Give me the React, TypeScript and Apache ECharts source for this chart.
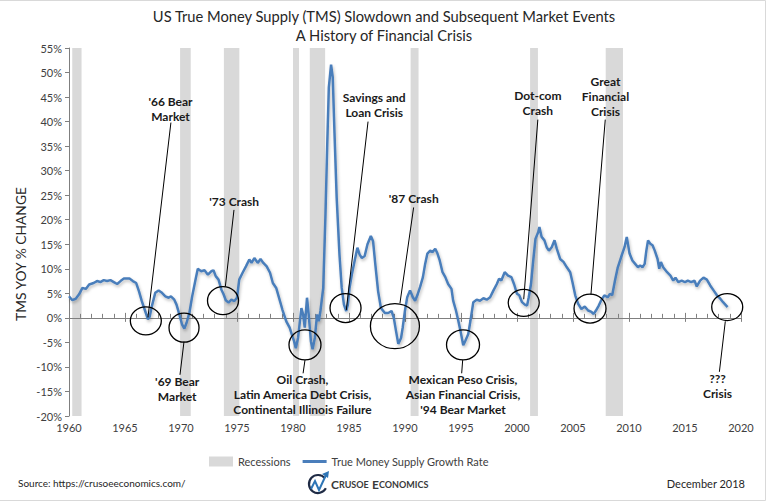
import React, { useEffect, useRef } from 'react';
import * as echarts from 'echarts';

const FONT = 'Lato, "Open Sans", sans-serif';
const TEXT_COLOR = '#404040';

// ---- Data ----
const tmsYears = [
  1960.0, 1960.3, 1960.6, 1960.9, 1961.2, 1961.5, 1961.8, 1962.2, 1962.5, 1962.8,
  1963.1, 1963.4, 1963.7, 1964.0, 1964.3, 1964.6, 1964.9, 1965.4, 1965.7, 1966.0,
  1966.25, 1966.5, 1966.8, 1967.05, 1967.2, 1967.4, 1967.7, 1968.0, 1968.3, 1968.6,
  1968.9, 1969.1, 1969.4, 1969.6, 1969.85, 1970.1, 1970.3, 1970.5, 1970.75, 1971.0,
  1971.3, 1971.5, 1971.8, 1972.1, 1972.4, 1972.7, 1972.9, 1973.1, 1973.35, 1973.6,
  1973.8, 1974.0, 1974.25, 1974.5, 1974.75, 1975.0, 1975.2, 1975.5, 1975.8, 1976.1,
  1976.3, 1976.55, 1976.85, 1977.1, 1977.35, 1977.65, 1977.95, 1978.2, 1978.5, 1978.8,
  1979.05, 1979.4, 1979.7, 1979.9, 1980.1, 1980.25, 1980.45, 1980.75, 1980.9, 1981.05,
  1981.25, 1981.4, 1981.6, 1981.75, 1981.95, 1982.15, 1982.3, 1982.45, 1982.7, 1982.9,
  1983.05, 1983.2, 1983.4, 1983.55, 1983.7, 1983.9, 1984.15, 1984.35, 1984.55, 1984.75,
  1984.9, 1985.05, 1985.25, 1985.5, 1985.75, 1985.95, 1986.15, 1986.4, 1986.65, 1986.95,
  1987.15, 1987.35, 1987.6, 1987.85, 1988.2, 1988.5, 1988.8, 1989.0, 1989.2, 1989.4,
  1989.65, 1989.8, 1990.0, 1990.2, 1990.45, 1990.7, 1990.9, 1991.1, 1991.35, 1991.6,
  1991.8, 1992.0, 1992.25, 1992.45, 1992.7, 1992.9, 1993.1, 1993.35, 1993.6, 1993.85,
  1994.15, 1994.3, 1994.55, 1994.75, 1994.95, 1995.2, 1995.4, 1995.65, 1995.85, 1996.1,
  1996.4, 1996.7, 1997.0, 1997.3, 1997.6, 1997.9, 1998.2, 1998.4, 1998.6, 1998.9,
  1999.2, 1999.5, 1999.75, 2000.0, 2000.2, 2000.45, 2000.7, 2000.9, 2001.05, 2001.25,
  2001.45, 2001.65, 2001.9, 2002.0, 2002.2, 2002.45, 2002.65, 2002.85, 2003.1, 2003.35,
  2003.55, 2003.85, 2004.15, 2004.45, 2004.75, 2004.95, 2005.2, 2005.45, 2005.75, 2006.05,
  2006.35, 2006.65, 2006.85, 2007.05, 2007.3, 2007.5, 2007.8, 2008.1, 2008.3, 2008.5,
  2008.75, 2009.0, 2009.3, 2009.6, 2009.8, 2010.05, 2010.3, 2010.55, 2010.8, 2011.0,
  2011.2, 2011.4, 2011.55, 2011.7, 2011.9, 2012.1, 2012.3, 2012.55, 2012.7, 2012.85,
  2013.05, 2013.4, 2013.7, 2013.95, 2014.15, 2014.4, 2014.7, 2015.0, 2015.25, 2015.55,
  2015.85, 2016.05, 2016.35, 2016.65, 2016.95, 2017.25, 2017.55, 2017.85, 2018.15, 2018.4,
  2018.6, 2018.8,
];

const tmsValues = [
  4.4, 3.6, 3.9, 4.8, 6.1, 5.9, 6.8, 7.1, 7.5, 7.3,
  7.7, 7.5, 7.7, 7.3, 6.9, 7.5, 8.0, 8.0, 7.5, 7.1,
  5.4, 3.4, 1.4, -0.3, 0.2, 2.4, 5.1, 5.6, 5.1, 4.4,
  4.1, 4.4, 3.7, 2.7, 0.7, -1.4, -2.2, -1.0, 1.0, 4.4,
  7.8, 10.0, 9.5, 9.7, 8.8, 9.5, 9.7, 8.5, 7.8, 5.8,
  4.8, 3.6, 3.1, 3.7, 3.4, 4.1, 7.8, 9.2, 10.5, 11.9,
  11.2, 12.2, 11.2, 12.0, 11.2, 10.5, 9.2, 7.1, 6.1, 3.7,
  1.7, -0.7, -2.0, -3.4, -4.8, -6.2, -4.1, 2.0, 0.7, -2.0,
  4.1, 0.7, -4.8, -6.4, -4.1, 0.7, -0.7, 1.4, 6.1, 21.0,
  34.7, 47.0, 51.6, 49.0, 38.0, 24.5, 12.9, 6.1, 2.7, 1.4,
  2.7, 6.1, 8.8, 11.6, 14.3, 12.9, 12.2, 12.6, 15.0, 16.7,
  15.6, 10.9, 5.4, 2.0, 1.0, 1.0, 1.4, 0.0, -2.7, -5.3,
  -4.1, -1.9, 1.5, 4.2, 5.6, 4.2, 3.5, 4.6, 6.3, 8.3,
  11.0, 13.1, 13.7, 13.4, 14.1, 13.1, 11.7, 9.3, 8.3, 6.9,
  5.9, 3.5, 1.5, -0.5, -2.6, -5.6, -4.6, -3.3, -0.5, 3.2,
  3.7, 3.5, 4.0, 3.7, 4.2, 5.6, 6.9, 8.0, 7.6, 9.3,
  8.6, 8.3, 6.8, 4.9, 4.6, 3.2, 2.7, 2.5, 4.2, 6.9,
  11.7, 16.1, 17.5, 18.5, 16.5, 15.8, 14.4, 13.7, 14.4, 15.8,
  14.1, 12.0, 11.4, 10.3, 9.3, 7.3, 4.6, 2.9, 1.8, 2.3,
  1.5, 1.2, 0.8, 1.5, 2.5, 3.5, 4.6, 4.2, 4.9, 4.6,
  7.6, 10.3, 12.4, 14.4, 16.5, 13.1, 11.7, 11.0, 10.3, 10.7,
  10.3, 11.0, 13.7, 15.8, 15.1, 14.8, 13.7, 12.0, 10.0, 11.4,
  10.3, 9.3, 8.6, 7.6, 8.2, 7.3, 7.6, 7.3, 7.6, 7.3,
  7.6, 6.4, 7.6, 8.2, 7.8, 6.6, 5.6, 4.6, 3.9, 3.2,
  2.7, 2.2,
];

const recessionStart = [1960.29, 1969.92, 1973.83, 1980.0, 1981.5, 1990.5, 2001.17, 2007.92];
const recessionEnd = [1961.12, 1970.87, 1975.21, 1980.54, 1982.87, 1991.21, 2001.87, 2009.46];

// Annotations (data coordinates)
const noteTexts = [
  "'66 Bear\nMarket",
  "'69 Bear\nMarket",
  "'73 Crash",
  'Oil Crash,\nLatin America Debt Crisis,\nContinental Illinois Failure',
  'Savings and\nLoan Crisis',
  "'87 Crash",
  "Mexican Peso Crisis,\nAsian Financial Crisis,\n'94 Bear Market",
  'Dot-com\nCrash',
  'Great\nFinancial\nCrisis',
  '???\nCrisis',
];
const noteX = [1969.06, 1969.66, 1974.75, 1980.85, 1987.25, 1990.78, 1995.18, 2001.86, 2007.9, 2017.9];
const noteY = [42.6, -14.5, 23.7, -15.7, 43.3, 24.3, -15.7, 43.7, 45.2, -13.8];

const circleX = [1966.86, 1970.27, 1973.75, 1981.07, 1984.69, 1989.1, 1995.18, 2000.6, 2006.52, 2018.77];
const circleY = [-0.6, -2.0, 3.5, -5.5, 2.0, -1.7, -5.5, 3.06, 1.9, 2.2];
const circleW = [31, 30, 31, 32, 31, 49, 33, 31, 32, 31];
const circleH = [28, 29, 28, 30, 29, 45, 30, 27, 29, 27];

const leaderX1 = [1969.1, 1970.27, 1974.73, 1981.07, 1986.7, 1990.77, 1995.15, 2001.86, 2007.88, 2018.6];
const leaderY1 = [39.8, -4.8, 22.0, -8.6, 40.0, 22.5, -8.6, 40.4, 40.4, -0.7];
const leaderX2 = [1967.05, 1969.91, 1973.96, 1980.9, 1984.76, 1989.55, 1995.06, 2000.6, 2006.6, 2018.07];
const leaderY2 = [0.1, -11.6, 6.4, -11.3, 1.6, 3.0, -11.3, 3.8, 4.7, -11.0];

const Y_MIN = -20;
const Y_MAX = 55;

export default function App() {
  const ref = useRef<HTMLDivElement>(null);

  useEffect(() => {
    if (!ref.current) return;
    const chart = echarts.init(ref.current, undefined, { renderer: 'svg' });

    const option: any = {
      animation: false,
      backgroundColor: '#ffffff',
      title: {
        text: 'US True Money Supply (TMS) Slowdown and Subsequent Market Events\nA History of Financial Crisis',
        left: 'center',
        top: 6,
        padding: 0,
        textStyle: {
          fontFamily: FONT,
          fontSize: 14.7,
          fontWeight: 'normal',
          color: '#262626',
          lineHeight: 19,
        },
      },
      legend: {
        left: 204,
        top: 451,
        itemWidth: 24,
        itemHeight: 10,
        itemGap: 12,
        selectedMode: false,
        textStyle: { fontFamily: FONT, fontSize: 11, color: TEXT_COLOR },
        data: [
          { name: 'Recessions', icon: 'rect' },
          { name: 'True Money Supply Growth Rate', icon: 'path://M0,0H24V3H0Z' },
        ],
      },
      grid: { left: 69, right: 27, top: 48, bottom: 87, containLabel: false },
      xAxis: [
        {
          type: 'value',
          min: 1960,
          max: 2020,
          interval: 5,
          position: 'bottom',
          axisLine: { show: false, onZero: false },
          axisTick: { show: false },
          splitLine: { show: false },
          axisLabel: {
            fontFamily: FONT,
            fontSize: 11,
            color: TEXT_COLOR,
            margin: 6,
            formatter: (v: number) => String(v),
          },
        },
        {
          type: 'value',
          min: 1960,
          max: 2020,
          interval: 5,
          position: 'bottom',
          z: 2,
          axisLine: { show: true, onZero: true, onZeroAxisIndex: 0, lineStyle: { color: '#7f7f7f', width: 1 } },
          axisTick: { show: true, inside: true, length: 5, lineStyle: { color: '#7f7f7f' } },
          minorTick: { show: true, splitNumber: 5, length: 4, lineStyle: { color: '#7f7f7f' } },
          splitLine: { show: false },
          axisLabel: { show: false },
        },
        {
          type: 'value',
          min: 1960,
          max: 2020,
          interval: 5,
          position: 'bottom',
          z: 2,
          axisLine: { show: false, onZero: true, onZeroAxisIndex: 0 },
          axisTick: { show: true, inside: false, length: 4, lineStyle: { color: '#7f7f7f' } },
          splitLine: { show: false },
          axisLabel: { show: false },
        },
      ],
      yAxis: {
        type: 'value',
        min: Y_MIN,
        max: Y_MAX,
        interval: 5,
        z: 2,
        axisLine: { show: true, onZero: false, lineStyle: { color: '#7f7f7f' } },
        axisTick: { show: true, length: 4, lineStyle: { color: '#7f7f7f' } },
        splitLine: { show: false },
        axisLabel: {
          fontFamily: FONT,
          fontSize: 11,
          color: TEXT_COLOR,
          margin: 7,
          formatter: '{value}%',
        },
      },
      series: [
        {
          name: 'Recessions',
          type: 'custom',
          z: 1,
          silent: true,
          itemStyle: { color: '#d9d9d9' },
          encode: { x: [0, 1], y: [2, 3] },
          data: recessionStart.map((s, i) => [s, recessionEnd[i], Y_MAX, Y_MIN]),
          renderItem: (params: any, api: any) => {
            const p0 = api.coord([api.value(0), api.value(2)]);
            const p1 = api.coord([api.value(1), api.value(3)]);
            return {
              type: 'rect',
              shape: { x: p0[0], y: p0[1], width: p1[0] - p0[0], height: p1[1] - p0[1] },
              style: { fill: '#d9d9d9' },
            };
          },
        },
        {
          name: 'True Money Supply Growth Rate',
          type: 'line',
          z: 3,
          symbol: 'none',
          showSymbol: false,
          smooth: false,
          silent: true,
          lineStyle: {
            color: '#4a7ebb',
            width: 2.5,
            shadowColor: 'rgba(0,0,0,0.25)',
            shadowBlur: 3,
            shadowOffsetX: 1,
            shadowOffsetY: 2,
          },
          itemStyle: { color: '#4a7ebb' },
          data: tmsYears.map((y, i) => [y, tmsValues[i]]),
        },
        {
          type: 'custom',
          z: 4,
          silent: true,
          encode: { x: [0, 2], y: [1, 3] },
          data: leaderX1.map((x, i) => [x, leaderY1[i], leaderX2[i], leaderY2[i]]),
          renderItem: (params: any, api: any) => {
            const a = api.coord([api.value(0), api.value(1)]);
            const b = api.coord([api.value(2), api.value(3)]);
            return {
              type: 'line',
              shape: { x1: a[0], y1: a[1], x2: b[0], y2: b[1] },
              style: { stroke: '#000000', lineWidth: 1 },
            };
          },
        },
        {
          type: 'custom',
          z: 4,
          silent: true,
          encode: { x: 0, y: 1 },
          data: circleX.map((x, i) => [x, circleY[i]]),
          renderItem: (params: any, api: any) => {
            const c = api.coord([api.value(0), api.value(1)]);
            const i = params.dataIndex;
            return {
              type: 'ellipse',
              shape: { cx: c[0], cy: c[1], rx: circleW[i] / 2, ry: circleH[i] / 2 },
              style: { fill: 'none', stroke: '#000000', lineWidth: 1.3 },
            };
          },
        },
        {
          type: 'custom',
          z: 5,
          silent: true,
          encode: { x: 0, y: 1 },
          data: noteX.map((x, i) => [x, noteY[i]]),
          renderItem: (params: any, api: any) => {
            const c = api.coord([api.value(0), api.value(1)]);
            const i = params.dataIndex;
            return {
              type: 'text',
              x: c[0],
              y: c[1],
              style: {
                text: noteTexts[i],
                align: 'center',
                verticalAlign: 'middle',
                fontFamily: FONT,
                fontSize: 12,
                fontWeight: 'bold',
                lineHeight: 15,
                fill: '#1a1a1a',
              },
            };
          },
        },
      ],
      graphic: [
        {
          type: 'polyline',
          silent: true,
          shape: { points: [[0, 0.5], [765.5, 0.5], [765.5, 500.5], [0, 500.5]] },
          style: { stroke: '#d9d9d9', fill: 'none', lineWidth: 1 },
        },
        {
          type: 'text',
          x: 20,
          y: 254,
          rotation: Math.PI / 2,
          silent: true,
          style: {
            text: 'TMS YOY % CHANGE',
            align: 'center',
            verticalAlign: 'middle',
            fontFamily: FONT,
            fontSize: 13.8,
            fill: '#262626',
          },
        },
        {
          type: 'text',
          x: 18,
          y: 483,
          silent: true,
          style: {
            text: 'Source: https://crusoeeconomics.com/',
            align: 'left',
            verticalAlign: 'middle',
            fontFamily: FONT,
            fontSize: 10,
            fill: '#262626',
          },
        },
        {
          type: 'text',
          x: 745,
          y: 483,
          silent: true,
          style: {
            text: 'December 2018',
            align: 'right',
            verticalAlign: 'middle',
            fontFamily: FONT,
            fontSize: 11,
            fill: '#262626',
          },
        },
        {
          type: 'arc',
          silent: true,
          shape: { cx: 318, cy: 484, r: 9, startAngle: 0.5, endAngle: 5.6, clockwise: true },
          style: { stroke: '#1f2b45', lineWidth: 2.2, fill: 'none' },
        },
        {
          type: 'polyline',
          silent: true,
          shape: { points: [[311, 489], [315, 481], [319, 490], [326, 475]] },
          style: { stroke: '#2e75b6', lineWidth: 2, fill: 'none' },
        },
        {
          type: 'polygon',
          silent: true,
          shape: { points: [[329, 471], [322, 474], [328, 478]] },
          style: { fill: '#2e75b6' },
        },
        {
          type: 'text',
          x: 331,
          y: 484,
          silent: true,
          style: {
            text: '{b|C}{s|RUSOE} {b|E}{s|CONOMICS}',
            align: 'left',
            verticalAlign: 'middle',
            fill: '#3a3a3a',
            rich: {
              b: { fontFamily: FONT, fontSize: 12, fill: '#3a3a3a', fontWeight: 'bold' },
              s: { fontFamily: FONT, fontSize: 9, fill: '#3a3a3a', fontWeight: 'bold' },
            },
          },
        },
      ],
    };

    chart.setOption(option);
    return () => chart.dispose();
  }, []);

  return (
    <div
      ref={ref}
      style={{ position: 'absolute', left: 0, top: 0, width: 768, height: 503 }}
    />
  );
}
